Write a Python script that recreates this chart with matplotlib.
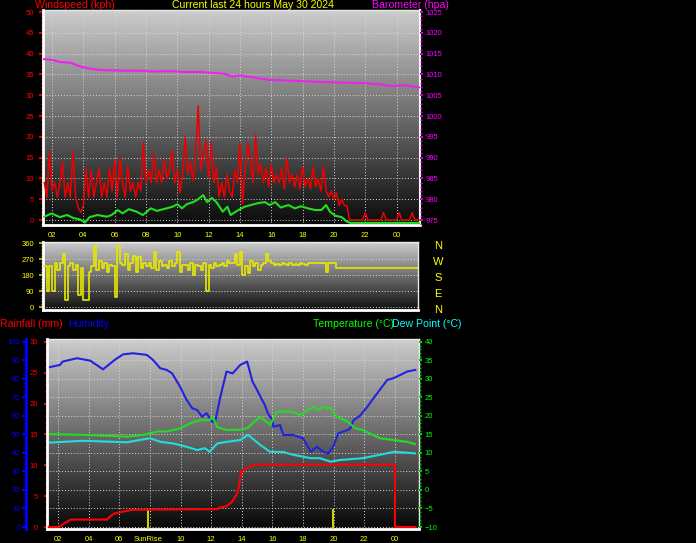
import numpy as np
import matplotlib as mpl
from matplotlib import pyplot as plt
from matplotlib.ticker import MultipleLocator

W, H = 696, 543
DPI = 100
BLACK = "#000000"

HOUR_TICKS = [2, 4, 6, 8, 10, 12, 14, 16, 18, 20, 22, 24]
HOUR_LABELS = ["02", "04", "06", "08", "10", "12", "14", "16", "18", "20", "22", "00"]

# barometer (hpa)
BARO_HOURS = [1.42, 2.0, 2.5, 3.2, 3.8, 4.3, 4.75, 5.5, 6.5, 7.6, 8.5, 9.5, 10.5,
              11.5, 12.5, 13.0, 13.5, 14.0, 15.3, 15.9, 16.6, 19.1, 22.0, 23.0,
              23.5, 23.9, 24.4, 25.5]
BARO = [1013.7, 1013.5, 1013.0, 1012.8, 1011.9, 1011.5, 1011.2, 1011.0, 1010.9,
        1010.9, 1010.7, 1010.8, 1010.6, 1010.6, 1010.3, 1010.2, 1009.5, 1009.8,
        1009.0, 1008.7, 1008.6, 1008.2, 1007.9, 1007.6, 1007.3, 1007.2, 1007.45,
        1006.9]

# average wind (kph)
AVG_HOURS = [1.5, 1.98, 2.2, 2.5, 2.96, 3.35, 3.8, 4.1, 4.4, 4.9, 5.5, 5.8, 6.2,
             6.5, 6.9, 7.4, 7.8, 8.3, 8.7, 9.2, 9.7, 10.0, 10.3, 10.6, 11.0, 11.3,
             11.65, 11.9, 12.2, 12.5, 12.9, 13.2, 13.4, 13.9, 14.3, 14.7, 15.2,
             15.6, 15.9, 16.25, 16.6, 17.1, 17.5, 17.9, 18.35, 18.8, 19.2, 19.5,
             19.75, 20.1, 20.5, 20.8, 21.05, 25.5]
AVG = [0.8, 1.6, 1.2, 0.7, 1.2, 0.5, 0.1, -0.6, 0.7, 1.2, 0.8, 1.2, 2.4, 1.6, 2.6,
       2.0, 1.2, 2.8, 2.2, 2.7, 3.2, 3.8, 2.8, 3.8, 4.3, 4.9, 6.0, 4.3, 5.3, 4.3,
       2.0, 3.2, 1.2, 2.4, 3.2, 3.6, 4.1, 4.3, 3.6, 4.3, 3.0, 3.6, 2.8, 3.3, 2.8,
       2.4, 2.4, 3.6, 2.0, 1.0, 0.7, -0.3, -0.7, -0.7]

# gusts and direction, one sample every 10 minutes from 01:30
SAMPLE_START = 1.5
SAMPLE_STEP = 1 / 6
GUST = [9, 5.5, 16.5, 7, 9, 5.5,
        9, 14, 5.5, 9, 5.5, 16.5,
        5.5, 3, 1.8, 3.5, 12.5, 5.5,
        12, 5.5, 9, 12.5, 5.5, 9,
        5.5, 12.5, 7, 14.5, 5.5, 15,
        9, 5.5, 13, 7, 9, 5.5,
        9, 7, 18.5, 9, 12, 9,
        16, 9, 12, 9, 14.5, 10,
        12, 16.8, 9, 12, 6.5, 11,
        20, 11, 14, 9.5, 16, 27.5,
        12, 16, 19, 10, 18.5, 9,
        12.7, 5.5, 9, 5.5, 11, 7,
        5.5, 12, 9, 18.5, 3.9, 12,
        18.5, 14.5, 9, 20.4, 11, 13.5,
        9, 12.5, 8, 13.5, 9, 11,
        9, 12.5, 7.5, 14.8, 9, 11,
        8, 11, 7.5, 12.8, 8, 10,
        7.5, 12.8, 8, 10, 7, 12.8,
        7, 5.5, 7, 5, 6.5, 3.5,
        5, 3.5, 3.5, 0, 0, 0,
        0, 0, 0, 1.8, 0, 0,
        0, 0, 0, 0, 1.8, 0,
        0, 0, 0, 0, 1.8, 0,
        0, 0, 0, 1.8, 0, 0, 0]
DIRECTION = [230, 90, 230, 90, 250, 210,
             250, 300, 40, 230, 250, 210,
             240, 70, 220, 40, 40, 200,
             230, 345, 210, 260, 220, 250,
             200, 240, 230, 60, 345, 250,
             240, 300, 210, 250, 290, 200,
             280, 220, 250, 230, 250, 220,
             310, 210, 260, 230, 240, 220,
             260, 230, 250, 310, 200, 240,
             240, 210, 250, 180, 240, 230,
             210, 250, 90, 240, 220, 250,
             230, 240, 250, 230, 260, 250,
             250, 300, 240, 310, 180, 230,
             190, 260, 230, 250, 210, 240,
             250, 300, 260, 250, 240, 245,
             240, 250, 245, 240, 250, 240,
             245, 240, 250, 245, 240, 250,
             250, 250, 247, 250, 250, 247,
             200, 247, 250, 250, 222, 222] + [222] * 31
COMPASS = ["N", "W", "S", "E", "N"]
COMPASS_DEG = [360, 270, 180, 90, 0]

# humidity (%)
HUM_HOURS = [1.41, 2.13, 2.3, 3.24, 4.1, 4.94, 5.7, 6.25, 6.9, 7.8, 8.2, 8.67, 9.1,
             9.45, 9.97, 10.4, 10.76, 11.1, 11.4, 11.7, 12.06, 12.26, 12.6, 13.0,
             13.4, 13.9, 14.35, 14.7, 15.0, 15.33, 15.5, 15.7, 16.0, 16.05, 16.5,
             16.7, 17.35, 18.0, 18.5, 18.9, 19.3, 19.65, 19.97, 20.3, 20.9, 21.1,
             21.3, 21.7, 22.2, 22.6, 23.0, 23.5, 23.9, 24.35, 24.8, 25.33]
HUM = [86.3, 87.6, 89.4, 91.2, 89.9, 85.2, 90.3, 93.3, 93.9, 93.0, 90.3, 85.8,
       84.9, 83.0, 75.8, 68.6, 64.2, 63.2, 59.6, 61.5, 56.9, 56.9, 70.4, 84.0,
       83.0, 87.6, 89.4, 78.5, 74.0, 68.6, 66.0, 61.5, 57.8, 54.2, 55.1, 49.7,
       49.7, 47.9, 40.7, 43.4, 40.7, 39.8, 43.4, 50.6, 52.4, 53.4, 57.8, 60.0,
       65.0, 69.6, 74.0, 79.5, 80.4, 82.2, 84.0, 84.9]

# temperature and dew point (C)
TEMP_HOURS = [1.4, 3.6, 5.4, 6.5, 7.6, 8.5, 9.1, 10.0, 10.6, 11.3, 11.9, 12.1,
              12.4, 13.0, 13.9, 14.35, 15.2, 15.85, 16.3, 17.2, 17.8, 18.5, 18.8,
              19.0, 19.3, 19.8, 20.2, 20.9, 21.4, 21.9, 23.0, 23.9, 24.8, 25.3]
TEMP = [15.1, 14.9, 14.6, 14.4, 14.9, 15.8, 15.8, 16.7, 18.0, 18.9, 18.9, 19.8,
        17.0, 16.2, 16.3, 16.7, 19.8, 17.6, 21.2, 21.2, 20.3, 22.1, 22.5, 21.6,
        22.5, 22.1, 19.8, 18.5, 16.7, 16.2, 14.0, 13.5, 13.0, 12.4]
DEW_HOURS = [1.4, 3.6, 5.4, 6.5, 8.0, 8.7, 9.5, 10.2, 11.1, 11.6, 11.9, 12.4, 13.0,
             13.9, 14.4, 15.2, 15.85, 16.7, 17.35, 18.5, 19.1, 19.8, 20.4, 21.9,
             23.0, 23.9, 24.8, 25.3]
DEW = [12.8, 13.3, 13.05, 12.9, 14.0, 13.0, 12.6, 11.9, 10.8, 11.3, 10.3, 12.6,
       13.0, 13.5, 14.9, 12.2, 10.3, 10.3, 9.5, 8.6, 8.6, 7.65, 8.1, 8.6, 9.5,
       10.3, 10.1, 9.9]

# rainfall (mm)
RAIN_HOURS = [1.4, 2.1, 2.3, 2.8, 5.2, 5.4, 5.7, 6.25, 6.9, 12.4, 12.6, 13.0,
              13.4, 13.7, 13.85, 13.95, 14.35, 14.55, 14.7, 24.0, 24.0, 25.35]
RAIN = [0, 0, 0.4, 1.2, 1.2, 1.7, 2.2, 2.5, 2.8, 2.9, 3.2, 3.35, 4.2, 5.5, 7.0,
        9.0, 9.6, 9.8, 10.1, 10.1, 0, 0]

SUNRISE = 7.88
SUNSET = 19.97


def px_axes(fig, x0, y0, x1, y1):
    return fig.add_axes([x0 / W, 1 - y1 / H, (x1 - x0) / W, (y1 - y0) / H])


def background(ax, top=0.80, bottom=0.04):
    grad = np.linspace(bottom, top, 256).reshape(-1, 1)
    ax.imshow(grad, extent=[0, 1, 0, 1], transform=ax.transAxes, origin="lower",
              cmap="gray", vmin=0, vmax=1, aspect="auto", zorder=0,
              interpolation="bilinear")
    ax.set_facecolor(BLACK)
    ax.set_axisbelow(True)


def style_spines(ax):
    for side in ["top", "right"]:
        ax.spines[side].set_color("#e8e8e8")
        ax.spines[side].set_linewidth(1.0)
    for side in ["left", "bottom"]:
        ax.spines[side].set_color("#ffffff")
        ax.spines[side].set_linewidth(2.0)


def yticks_style(ax, color, labelcolor, pad, length=3):
    ax.tick_params(axis="y", which="major", colors=color, labelcolor=labelcolor,
                   labelsize=5.5, length=length, width=1.5, pad=pad)
    ax.tick_params(axis="y", which="minor", colors=color, length=1.6, width=1.0)


def hour_axis(ax, pad, labels=HOUR_LABELS):
    ax.set_xticks(HOUR_TICKS)
    ax.set_xticklabels(labels)
    ax.tick_params(axis="x", length=0, labelcolor="#ffff00", labelsize=5.5, pad=pad)


def main():
    mpl.rcParams["font.family"] = ["Liberation Sans", "DejaVu Sans"]
    grid_kw = dict(color="#d8d8d8", linestyle=(0, (1, 2)), linewidth=0.7)
    fig = plt.figure(figsize=(W / DPI, H / DPI), dpi=DPI, facecolor=BLACK)

    samples = SAMPLE_START + np.arange(len(GUST)) * SAMPLE_STEP

    # wind / barometer
    ax1 = px_axes(fig, 43, 10, 420, 225)
    background(ax1)
    ax1.plot(samples, GUST, color="#ee0000", lw=1.1, zorder=3)
    ax1.plot(AVG_HOURS, AVG, color="#22dd22", lw=1.5, zorder=4)
    ax1.set_xlim(1.42, 25.5)
    ax1.set_ylim(-1.2, 50.5)
    ax1.yaxis.set_major_locator(MultipleLocator(5))
    ax1.yaxis.set_minor_locator(MultipleLocator(1))
    ax1.grid(True, which="major", **grid_kw)
    yticks_style(ax1, "#dd0000", "#ff0000", 3.5)
    hour_axis(ax1, 5)
    style_spines(ax1)
    ax1.spines["right"].set_color("#ffffff")
    ax1.spines["right"].set_linewidth(1.5)

    ax1b = ax1.twinx()
    ax1b.plot(BARO_HOURS, BARO, color="#ee22ee", lw=1.5, zorder=4)
    ax1b.set_ylim(973.8, 1025.5)
    ax1b.yaxis.set_major_locator(MultipleLocator(5))
    ax1b.yaxis.set_minor_locator(MultipleLocator(1))
    yticks_style(ax1b, "#cc00cc", "#ff00ff", 1.5, length=2.5)
    for side in ax1b.spines:
        ax1b.spines[side].set_visible(False)

    # wind direction
    ax2 = px_axes(fig, 43, 242, 418, 310)
    background(ax2, top=0.80, bottom=0.06)
    ax2.step(samples, DIRECTION, where="post", color="#e8e800", lw=1.2, zorder=3)
    ax2.set_xlim(1.42, 25.39)
    ax2.set_ylim(-14, 366)
    ax2.set_yticks([0, 90, 180, 270, 360])
    ax2.yaxis.set_minor_locator(MultipleLocator(18))
    ax2.set_xticks([])
    ax2.grid(True, which="major", axis="y", **grid_kw)
    yticks_style(ax2, "#a8a800", "#ffff00", 3.5)
    style_spines(ax2)
    for label, deg in zip(COMPASS, COMPASS_DEG):
        ax2.text(1.053, deg - 15, label, transform=ax2.get_yaxis_transform(),
                 color="#ffff00", fontsize=8, ha="center", va="center")

    # humidity / rain / temperature
    ax3 = px_axes(fig, 47, 339, 419, 529)
    background(ax3, top=0.80, bottom=0.03)
    ax3.plot(HUM_HOURS, HUM, color="#2222e0", lw=1.5, zorder=3)
    ax3.set_xlim(1.28, 25.57)
    ax3.set_ylim(-1.08, 101.6)
    ax3.yaxis.set_major_locator(MultipleLocator(10))
    ax3.yaxis.set_minor_locator(MultipleLocator(2))
    ax3.grid(True, which="major", **grid_kw)
    ax3.axvline(SUNRISE, ymin=0, ymax=0.1, color="#d8d800", lw=1.4, zorder=3)
    ax3.axvline(SUNSET, ymin=0, ymax=0.1, color="#d8d800", lw=1.4, zorder=3)
    # the sunrise label takes the place of the 08 label in this panel
    bottom_labels = ["" if h == "08" else h for h in HOUR_LABELS]
    hour_axis(ax3, 5, bottom_labels)
    ax3.annotate("SunRise", xy=(SUNRISE, 0), xycoords=("data", "axes fraction"),
                 xytext=(0, -5), textcoords="offset points", ha="center", va="top",
                 color="#ffff00", fontsize=5.5)
    style_spines(ax3)
    ax3.spines["right"].set_color("#ffffff")
    ax3.spines["left"].set_position(("axes", -0.0565))
    ax3.spines["left"].set_color("#0000ff")
    yticks_style(ax3, "#0000ff", "#0000ff", 1.0, length=3)

    ax3t = ax3.twinx()
    ax3t.plot(TEMP_HOURS, TEMP, color="#22dd22", lw=1.5, zorder=3)
    ax3t.plot(DEW_HOURS, DEW, color="#22dddd", lw=1.5, zorder=3)
    ax3t.set_ylim(-10.54, 40.8)
    ax3t.yaxis.set_major_locator(MultipleLocator(5))
    ax3t.yaxis.set_minor_locator(MultipleLocator(1))
    yticks_style(ax3t, "#00cc00", "#00ff00", 1.5, length=2.5)
    for side in ax3t.spines:
        ax3t.spines[side].set_visible(False)

    ax3r = ax3.twinx()
    ax3r.plot(RAIN_HOURS, RAIN, color="#ff0000", lw=1.5, zorder=3)
    ax3r.set_ylim(-0.324, 30.48)
    ax3r.yaxis.tick_left()
    ax3r.yaxis.set_major_locator(MultipleLocator(5))
    ax3r.yaxis.set_minor_locator(MultipleLocator(1))
    yticks_style(ax3r, "#dd0000", "#ff0000", 4.0, length=2.5)
    for side in ax3r.spines:
        ax3r.spines[side].set_visible(False)
    ax3r.spines["left"].set_visible(True)
    ax3r.spines["left"].set_color("#ffffff")
    ax3r.spines["left"].set_linewidth(2.0)

    # titles
    title_kw = dict(fontsize=7.6, va="top")
    fig.text(35 / W, 1 - 0.5 / H, "Windspeed (kph)", color="#ff0000", **title_kw)
    fig.text(172 / W, 1 - 0.5 / H, "Current last 24 hours May 30 2024",
             color="#ffff00", **title_kw)
    fig.text(372 / W, 1 - 0.5 / H, "Barometer (hpa)", color="#ff00ff", **title_kw)
    fig.text(0 / W, 1 - 319 / H, "Rainfall (mm)", color="#ff0000", **title_kw)
    fig.text(68 / W, 1 - 319 / H, "Humidity", color="#0000ff", **title_kw)
    fig.text(313 / W, 1 - 319 / H, "Temperature (\u00b0C)", color="#00ff00", **title_kw)
    fig.text(392 / W, 1 - 319 / H, "Dew Point (\u00b0C)", color="#00ffff", **title_kw)

    fig.savefig("out.png", dpi=DPI, facecolor=BLACK)
    plt.close(fig)


if __name__ == "__main__":
    main()
